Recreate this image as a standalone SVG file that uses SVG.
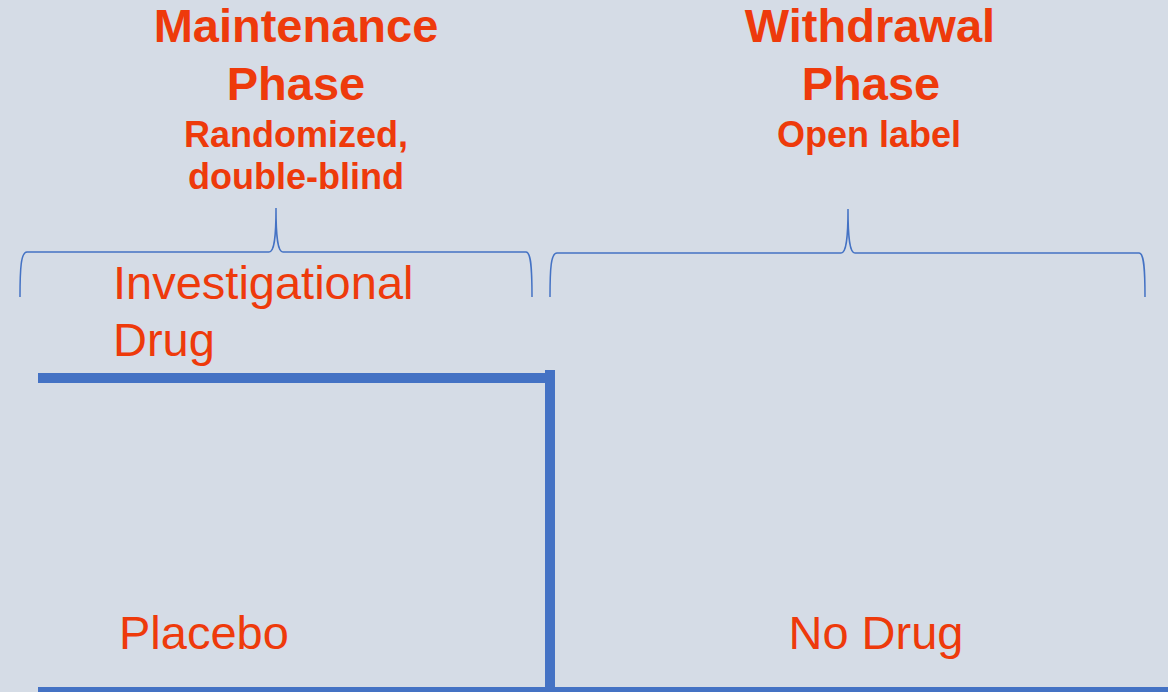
<svg xmlns="http://www.w3.org/2000/svg" width="1168" height="692" viewBox="0 0 1168 692">
<style>
.t{font-family:"Liberation Sans",Arial,sans-serif;fill:#EE3A0B;text-anchor:middle}
.h{font-weight:bold;font-size:47px}
.s{font-weight:bold;font-size:36px}
.r{font-size:47px;text-anchor:start}
.m{font-size:47px}
.brace{fill:none;stroke:#4472C4;stroke-width:1.5}
.bar{fill:none;stroke:#4472C4;stroke-width:10;stroke-linecap:butt}
</style>
<rect width="1168" height="692" fill="#D5DCE6"/>
<g id="maintenance-header">
<text class="t h" x="296" y="42">Maintenance</text>
<text class="t h" x="296" y="100">Phase</text>
<text class="t s" x="296" y="147">Randomized,</text>
<text class="t s" x="296" y="189">double-blind</text>
</g>
<g id="withdrawal-header">
<text class="t h" x="870" y="42">Withdrawal</text>
<text class="t h" x="871" y="100">Phase</text>
<text class="t s" x="869" y="147">Open label</text>
</g>
<g id="maintenance-brace">
<path class="brace" d="M20,297 C20,268 21,252 27,252 L269,252 C274,252 276,240 276,208 C276,240 278,252 283,252 L526,252 C531,252 532,268 532,297"/>
</g>
<g id="withdrawal-brace">
<path class="brace" d="M550,297 C550,268 551,253 557,253 L841,253 C846,253 848,240 848,209 C848,240 850,253 855,253 L1139,253 C1144,253 1145,268 1145,297"/>
</g>
<g id="investigational-drug">
<text class="t r" x="113" y="299">Investigational</text>
<text class="t r" x="113" y="356">Drug</text>
</g>
<g id="placebo">
<text class="t r" x="119" y="649">Placebo</text>
</g>
<g id="no-drug">
<text class="t m" x="876" y="649">No Drug</text>
</g>
<g id="connectors">
<path class="bar" d="M38,378 H555"/>
<path class="bar" d="M550,370 V692"/>
<path class="bar" d="M38,692 H1168"/>
</g>
</svg>
